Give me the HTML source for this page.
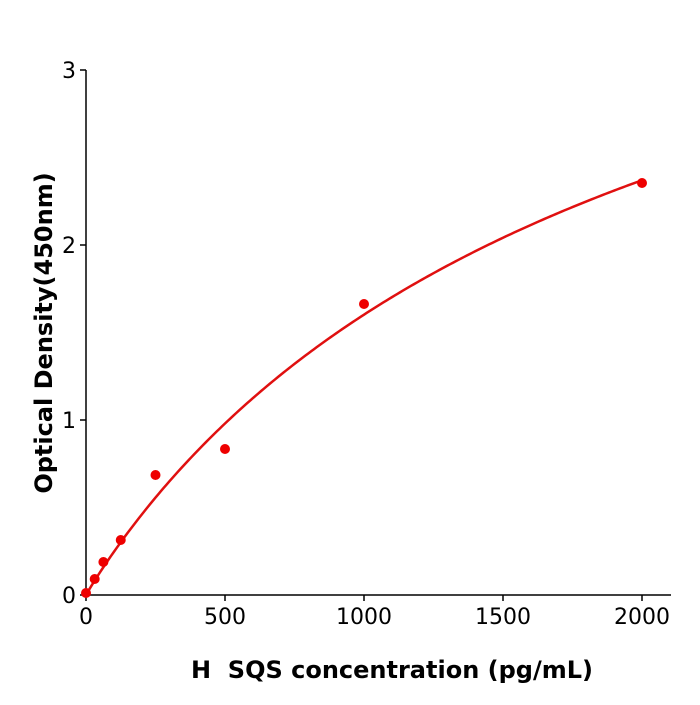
<!DOCTYPE html>
<html><head><style>body{margin:0;background:#fff}</style></head><body>
<svg width="700" height="700" xmlns="http://www.w3.org/2000/svg" font-family="DejaVu Sans, Liberation Sans, sans-serif">
<rect width="700" height="700" fill="#fff"/>
<g stroke="#000" stroke-width="1.5" fill="none">
<line x1="86" y1="70" x2="86" y2="596"/>
<line x1="85" y1="595" x2="671" y2="595"/>
<line x1="80" y1="595" x2="86" y2="595"/>
<line x1="80" y1="420" x2="86" y2="420"/>
<line x1="80" y1="245" x2="86" y2="245"/>
<line x1="80" y1="70" x2="86" y2="70"/>
<line x1="86" y1="595" x2="86" y2="601"/>
<line x1="225" y1="595" x2="225" y2="601"/>
<line x1="364" y1="595" x2="364" y2="601"/>
<line x1="503" y1="595" x2="503" y2="601"/>
<line x1="642" y1="595" x2="642" y2="601"/>
</g>
<g font-size="22" fill="#000" text-anchor="end">
<text x="76" y="603">0</text><text x="76" y="428">1</text><text x="76" y="253">2</text><text x="76" y="78">3</text>
</g>
<g font-size="22" fill="#000" text-anchor="middle">
<text x="86" y="624">0</text><text x="225" y="624">500</text><text x="364" y="624">1000</text><text x="503" y="624">1500</text><text x="642" y="624">2000</text>
</g>
<text x="392" y="678" font-size="24" font-weight="bold" text-anchor="middle">H&#160; SQS concentration (pg/mL)</text>
<text transform="translate(52,333) rotate(-90)" font-size="24" font-weight="bold" text-anchor="middle">Optical Density(450nm)</text>
<polyline id="curve" fill="none" stroke="#e01010" stroke-width="2.5" points=""/>
<g fill="#ee0000">
<circle cx="86" cy="593" r="5"/><circle cx="94.7" cy="579" r="5"/><circle cx="103.4" cy="562" r="5"/><circle cx="120.75" cy="540" r="5"/><circle cx="155.5" cy="475" r="5"/><circle cx="225" cy="449" r="5"/><circle cx="364" cy="304" r="5"/><circle cx="642" cy="183" r="5"/>
</g>
</svg>
<script>
var pts=[];
for(var i=0;i<=200;i++){var x=i*10;var y=4.74*Math.pow(x,0.97)/(Math.pow(2000,0.97)*1+Math.pow(x,0.97));
var sc=2.37/(4.74*Math.pow(2000,0.97)/(2*Math.pow(2000,0.97)));
y*=sc;pts.push((86+x*0.278).toFixed(2)+","+(595-y*175).toFixed(2));}
document.getElementById("curve").setAttribute("points",pts.join(" "));
</script>
</body></html>
